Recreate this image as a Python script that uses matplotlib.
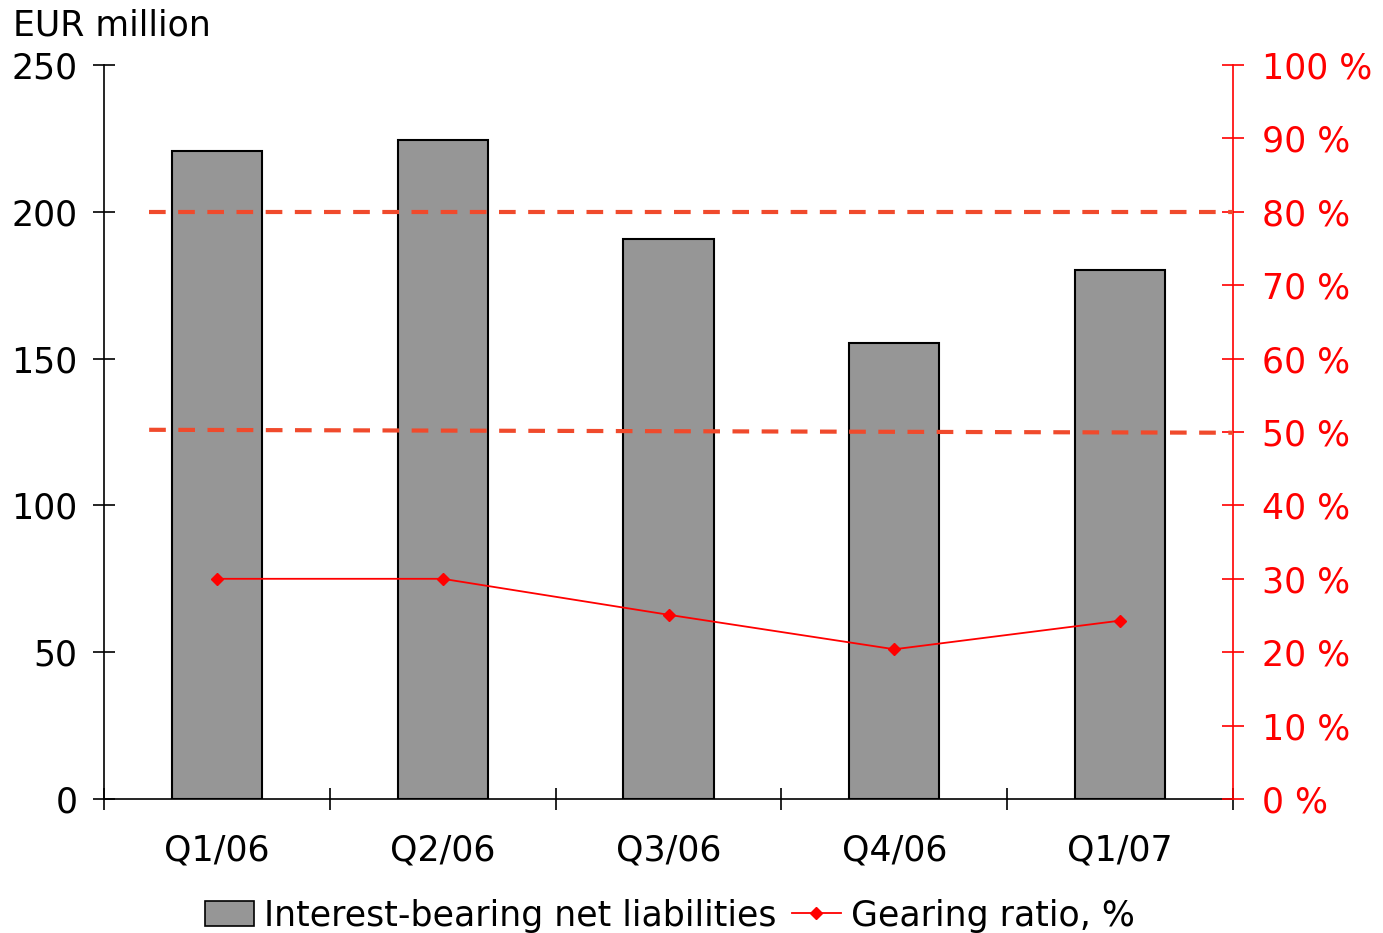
import matplotlib
matplotlib.use("Agg")
import matplotlib.pyplot as plt
from matplotlib.lines import Line2D
from matplotlib.patches import Patch

plt.rcParams['font.family'] = ['DejaVu Sans']

# Quarterly data
quarters = ["Q1/06", "Q2/06", "Q3/06", "Q4/06", "Q1/07"]
net_liabilities = [220.7, 224.5, 190.7, 155.3, 180.2]   # EUR million
gearing_ratio = [30.0, 30.0, 25.1, 20.4, 24.3]           # %

# Reference levels on the gearing axis (start / end values)
ref_start = [80.0, 50.3]
ref_end = [80.0, 49.9]
ref_x = [-0.30, 4.50]

left_ticks = [0, 50, 100, 150, 200, 250]
right_ticks = list(range(0, 101, 10))
right_labels = [f"{t} %" for t in right_ticks]

RED = "#ff0000"
DASH = "#f04a2c"
FS = 25

fig = plt.figure(figsize=(13.83, 9.33), dpi=100)
ax = fig.add_axes([104/1383, 1-799/933, (1233-104)/1383, (799-65)/933])

x = list(range(len(quarters)))
ax.bar(x, net_liabilities, width=0.4, color="#969696", edgecolor="black",
       linewidth=1.5, zorder=2)

ax.set_xlim(-0.5, 4.5)
ax.set_ylim(0, 250)
ax.set_yticks(left_ticks)
ax.tick_params(axis='y', direction='inout', length=16, width=1.2,
               labelsize=FS, pad=11)
ax.set_xticks([i - 0.5 for i in range(len(quarters) + 1)])
ax.set_xticklabels([])
ax.set_xticks(x, minor=True)
ax.set_xticklabels(quarters, minor=True)
ax.tick_params(axis='x', which='major', direction='inout', length=16, width=1.2)
ax.tick_params(axis='x', which='minor', length=0, labelsize=FS, pad=25)
for side in ("top", "right"):
    ax.spines[side].set_visible(False)
ax.spines["left"].set_linewidth(1.2)
ax.spines["bottom"].set_linewidth(1.2)

ax2 = ax.twinx()
ax2.set_ylim(0, 100)
ax2.set_yticks(right_ticks)
ax2.set_yticklabels(right_labels)
ax2.tick_params(axis='y', direction='inout', length=16, width=1.2,
                labelsize=FS, pad=13, colors=RED)
for side in ("top", "left", "bottom"):
    ax2.spines[side].set_visible(False)
ax2.spines["right"].set_color(RED)
ax2.spines["right"].set_linewidth(1.2)

for y0, y1 in zip(ref_start, ref_end):
    ax2.plot(ref_x, [y0, y1], color=DASH, linewidth=3, linestyle=(0, (4, 3)),
             zorder=3)

ax2.plot(x, gearing_ratio, color=RED, linewidth=1.3, marker="D",
         markersize=6, zorder=4)

fig.text(13/1383, 1-36/933, "EUR million", fontsize=FS, va="baseline", ha="left")

handles = [Patch(facecolor="#969696", edgecolor="black", linewidth=1.2),
           Line2D([], [], color=RED, linewidth=1.3, marker="D", markersize=6)]
fig.legend(handles, ["Interest-bearing net liabilities", "Gearing ratio, %"],
           loc="lower center", bbox_to_anchor=(0.4845, -0.033), ncol=2,
           frameon=False, fontsize=FS, handlelength=1.4, handletextpad=0.3,
           columnspacing=0.45)

fig.savefig("out.png", dpi=100)
